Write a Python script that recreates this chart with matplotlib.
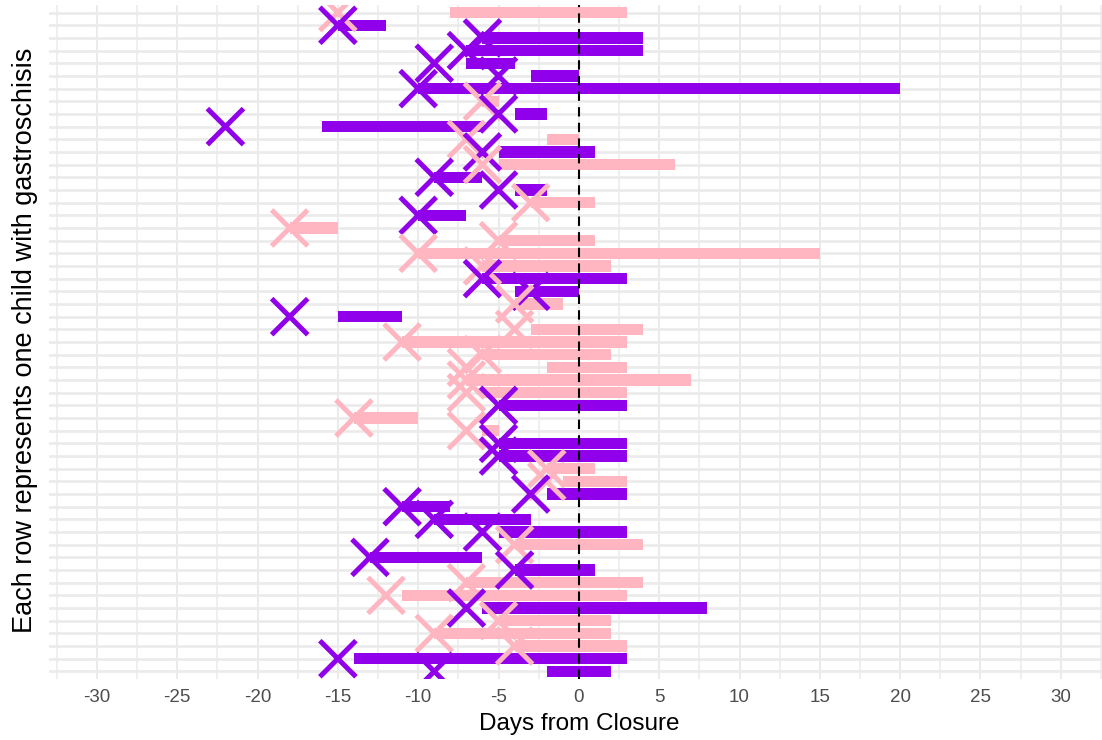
import numpy as np
import matplotlib
matplotlib.use("Agg")
from matplotlib import pyplot as plt
from matplotlib.markers import MarkerStyle

PURPLE = '#9000EA'
PINK = '#FFB6C1'

# one entry per child, top row first
group = ['pink', 'purple', 'purple', 'purple', 'purple', 'purple', 'purple', 'pink', 'purple', 'purple',
         'pink', 'purple', 'pink', 'purple', 'purple', 'pink', 'purple', 'pink', 'pink', 'pink',
         'pink', 'purple', 'purple', 'pink', 'purple', 'pink', 'pink', 'pink', 'pink', 'pink',
         'pink', 'purple', 'pink', 'pink', 'purple', 'purple', 'pink', 'pink', 'purple', 'purple',
         'purple', 'purple', 'pink', 'purple', 'purple', 'pink', 'pink', 'purple', 'pink', 'pink',
         'pink', 'purple', 'purple']
bar_start = [-8, -15, -6, -7, -7, -3, -10, -6, -4, -16,
             -2, -5, -5, -9, -4, -3, -10, -18, -5, -10,
             -6, -6, -4, -4, -15, -3, -11, -6, -2, -7,
             -6, -5, -14, -6, -5, -5, -2, -1, -2, -11,
             -9, -5, -4, -13, -4, -7, -11, -6, -5, -9,
             -4, -14, -2]
bar_end = [3, -12, 4, 4, -4, 0, 20, -5, -2, -6,
           0, 1, 6, -6, -2, 1, -7, -15, 1, 15,
           2, 3, 0, -1, -11, 4, 3, 2, 3, 7,
           3, 3, -10, -5, 3, 3, 1, 3, 3, -8,
           -3, 3, 4, -6, 1, 4, 3, 8, 2, 2,
           3, 3, 2]
event_day = [-15, -15, -6, -7, -9, -5, -10, -6, -5, -22,
             -7, -6, -6, -9, -5, -3, -10, -18, -5, -10,
             -6, -6, -3, -4, -18, -4, -11, -6, -7, -7,
             -7, -5, -14, -7, -5, -5, -2, -2, -3, -11,
             -9, -6, -4, -13, -4, -7, -12, -7, -5, -9,
             -4, -15, -9]

rows = np.arange(1, len(group) + 1)
colors = [PURPLE if g == 'purple' else PINK for g in group]
starts = np.array(bar_start)
widths = np.array(bar_end) - starts

FONT = ['Liberation Sans', 'DejaVu Sans']

fig = plt.figure(figsize=(11.02, 7.40), dpi=100)
ax = fig.add_axes([48.7 / 1102, 61 / 740, 1060.3 / 1102, 674 / 740])

ax.set_xlim(-33, 33)
ax.set_ylim(len(group) + 0.6, 0.4)

ax.set_xticks(np.arange(-30, 31, 5))
ax.set_xticks(np.arange(-32.5, 33, 5), minor=True)
ax.set_xticklabels([str(v) for v in range(-30, 31, 5)], family=FONT)
ax.set_yticks(rows)
ax.set_yticklabels([])

ax.grid(True, axis='x', which='major', color='#EBEBEB', lw=1.5, zorder=0)
ax.grid(True, axis='x', which='minor', color='#EBEBEB', lw=1.1, zorder=0)
ax.grid(True, axis='y', which='major', color='#EBEBEB', lw=1.9, zorder=0)
ax.set_axisbelow(True)
for s in ax.spines.values():
    s.set_visible(False)
ax.tick_params(axis='both', which='both', length=0)
ax.tick_params(axis='x', pad=7, labelsize=13.5, labelcolor='#4D4D4D')

# periods (bars)
ax.barh(rows, widths, left=starts, height=0.9, color=colors, linewidth=0, zorder=2)

# closure day
ax.axvline(0, color='black', lw=1.5, linestyle=(0, (4.5, 3)), zorder=3)

# events (crosses)
xm = MarkerStyle('x', capstyle='round')
ax.scatter(event_day, rows, marker=xm, s=26 ** 2, c=colors, linewidths=3.6, zorder=4)

ax.set_xlabel('Days from Closure', fontsize=17.5, labelpad=5, family=FONT)
fig.text(25 / 1102, 1 - 340 / 740, 'Each row represents one child with gastroschisis',
         rotation=90, ha='center', va='center', fontsize=19.5, family=FONT)

fig.savefig('out.png', dpi=100, facecolor='w')
